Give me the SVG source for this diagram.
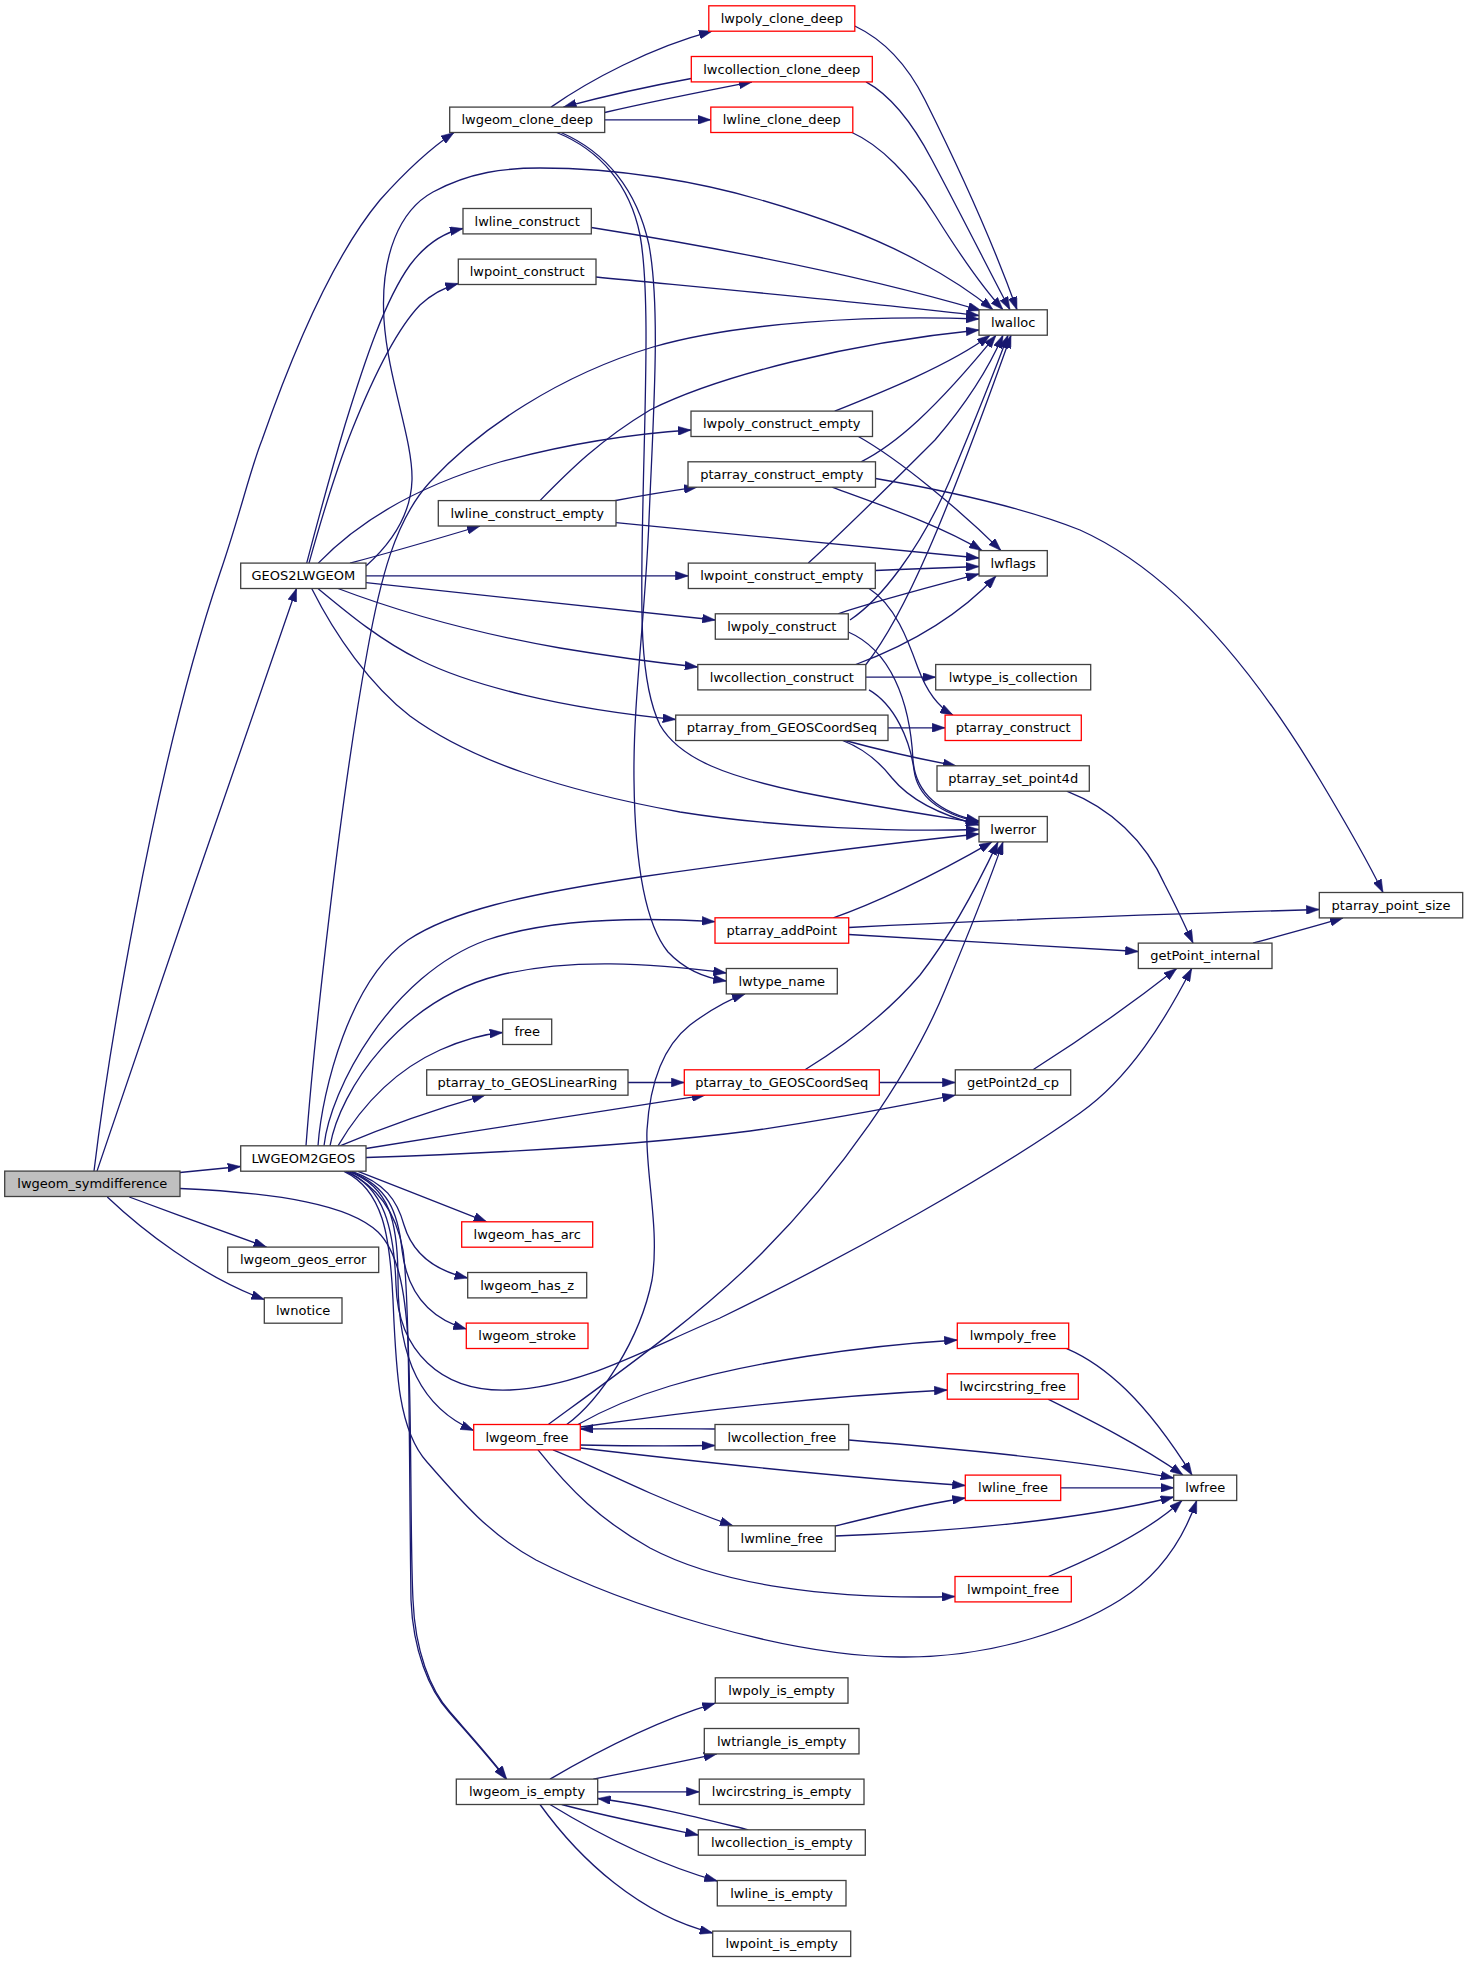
<svg xmlns="http://www.w3.org/2000/svg" width="1468" height="1963" viewBox="0 0 1468 1963">
<style>
.n rect{fill:#fff;stroke:#404040;stroke-width:1.3}
.r rect{stroke:#ff0000}
.g rect{fill:#bfbfbf}
.n text{font-family:"DejaVu Sans",sans-serif;font-size:13px;fill:#000;text-anchor:middle}
.e path{fill:none;stroke:#191970;stroke-width:1.3;marker-end:url(#a)}
</style>
<defs>
<marker id="a" viewBox="0 0 13 9" refX="13" refY="4.5" markerWidth="13" markerHeight="9" markerUnits="userSpaceOnUse" orient="auto">
<path d="M0,0 L13,4.5 L0,9 z" fill="#191970" stroke="#191970" stroke-width="0.5"/>
</marker>
</defs>
<rect width="1468" height="1963" fill="#fff"/>
<g id="edges" class="e">
<path d="M94,1171.1 C105,1080 150,780 220,573 C240,515 250,470 262,440 C290,360 330,260 380,200 C405,172 428,150 454,132.5"/>
<path d="M97,1171.1 C140,1040 255,710 296.5,588.5"/>
<path d="M180,1172.5 L240.7,1166.5"/>
<path d="M129.3,1197 C175,1214 220,1230 266.5,1247.1"/>
<path d="M107.3,1197 C140,1228 200,1276 264.3,1299.5"/>
<path d="M180,1188.5 C280,1193 350,1205 378,1232 C398,1252 405,1290 408,1340 C412,1420 410,1540 413,1600 C415,1650 430,1690 450,1712 C470,1735 490,1757 506.7,1779.1"/>
<path d="M346,1171.3 C378,1186 396,1212 403,1250 C410,1300 409,1460 411,1600 C413,1650 429,1690 449,1712 C469,1735 489,1757 506,1779.1"/>
<path d="M358,1171.3 C400,1188 450,1207 486.7,1221.8"/>
<path d="M352,1171.3 C385,1183 397,1200 404,1225 C412,1252 432,1270 467.7,1278"/>
<path d="M350,1171.3 C388,1186 398,1212 402,1250 C407,1292 428,1318 466.3,1329"/>
<path d="M348,1171.3 C390,1186 398,1222 398,1280 C398,1360 422,1408 473.7,1430.5"/>
<path d="M346,1171.3 C384,1187 394,1228 396,1285 C398,1350 440,1393 510,1390 C580,1387 640,1352 720,1318 C850,1255 1000,1170 1080,1113 C1130,1078 1165,1020 1191.7,968.5"/>
<path d="M344,1171.3 C383,1190 390,1235 393,1300 C396,1370 398,1430 427,1462 C460,1500 490,1535 536,1560 C620,1603 780,1656 900,1657 C1000,1658 1080,1625 1120,1600 C1160,1575 1183,1540 1196.7,1500.5"/>
<path d="M306,1145.8 C314,1040 340,800 367,653 C380,580 395,520 430,482 C480,428 560,375 653,347 C740,322 870,315 979,319"/>
<path d="M318,1145.8 C322,1090 350,980 408,940 C450,912 520,895 640,877 C760,860 900,842 979,834"/>
<path d="M324,1145.8 C330,1090 390,975 486.7,940 C540,922 620,916 715,921.7"/>
<path d="M330,1145.8 C340,1090 400,1000 500,975 C570,958 650,963 726.3,973"/>
<path d="M338,1145.8 C365,1100 400,1068 440,1050 C465,1039 485,1034 502.7,1032.5"/>
<path d="M340,1145.8 C390,1125 440,1108 485,1095.2"/>
<path d="M366,1148.5 C480,1130 600,1111 705,1095.2"/>
<path d="M366,1157.5 C500,1153 640,1145 750,1131 C830,1120 900,1106 955.3,1095.2"/>
<path d="M306.7,563.1 C318,520 330,475 345,425 C365,360 385,300 410,265 C425,245 442,233 463,228.5"/>
<path d="M309,563.1 C321,520 336,470 352,430 C372,380 396,330 420,305 C434,292 446,287 458.3,283.5"/>
<path d="M318.3,563.1 C360,520 420,485 500,462 C570,443 630,434 691,430"/>
<path d="M350,563.1 C400,550 440,538 480,526"/>
<path d="M366,566 C395,540 411,512 412,480 C413,440 388,380 384,320 C380,255 400,210 433,192 C470,172 505,168 540,168 C620,168 700,182 761,200 C830,220 880,240 920,262 C950,278 975,295 993,309.8"/>
<path d="M366,575.8 L688.3,575.8"/>
<path d="M366,582.7 C500,597 620,610 715.3,620"/>
<path d="M338,588.5 C400,612 480,634 560,648 C620,658 660,663 697.8,667"/>
<path d="M318,588.5 C350,615 380,640 420,660 C470,685 560,708 675.7,719.5"/>
<path d="M311.7,588.5 C335,635 370,685 410,716 C470,760 560,790 680,812 C780,828 900,832 979,829.5"/>
<path d="M551,107.1 C590,80 650,48 712,31.2"/>
<path d="M604.7,112.5 C650,102 700,92 752,81.9"/>
<path d="M691.3,78.5 C650,86 605,96 563.5,107.1"/>
<path d="M604.7,119.8 L710.8,119.8"/>
<path d="M556.7,132.5 C600,150 630,185 640,235 C650,290 645,400 643,500 C641,600 638,680 660,725 C680,760 730,777 800,792 C870,806 930,815 979,823"/>
<path d="M561,132.5 C606,152 637,190 649,245 C661,310 653,420 649,520 C645,620 633,700 634,780 C635,870 646,925 668,952 C685,970 705,978 726.3,981"/>
<path d="M854.8,26 C880,38 905,60 925,100 C955,160 992,240 1017,309.8"/>
<path d="M866,81.9 C890,95 912,122 932,160 C965,222 994,280 1010,309.8"/>
<path d="M852,132.5 C880,145 910,175 935,215 C960,255 985,290 1003,309.8"/>
<path d="M591.3,227.5 C720,248 860,275 981,310.5"/>
<path d="M596,277 C730,290 870,303 979,315.5"/>
<path d="M540,500.6 C570,470 600,440 650,410 C720,375 850,343 979,330"/>
<path d="M834.7,411.1 C880,393 950,365 990,335.2"/>
<path d="M861,461.8 C895,445 935,410 996,335.2"/>
<path d="M808.3,563.1 C850,525 900,475 935,440 C965,405 988,370 1003,335.2"/>
<path d="M850,620 C880,600 920,550 950,480 C975,420 995,370 1008,335.2"/>
<path d="M866,664.5 C905,615 945,520 1011,335.2"/>
<path d="M858.4,436.5 C900,460 960,510 1001,550.6"/>
<path d="M832,487.2 C880,505 940,525 982,550.6"/>
<path d="M616,522.7 C760,537 880,549 979,558"/>
<path d="M875.3,570.5 C910,569 945,567.5 979,566.5"/>
<path d="M838,613.8 C880,600 930,587 979,574"/>
<path d="M855.8,664.5 C900,648 955,620 996,576"/>
<path d="M865.8,677.2 L935.7,677.2"/>
<path d="M869,689.9 C895,705 910,740 914,770 C918,800 945,815 979,822"/>
<path d="M848.3,632 C890,650 910,700 913,760 C916,798 945,814 979,821"/>
<path d="M842.6,740.5 C862,748 878,760 892,778 C910,800 940,815 979,825"/>
<path d="M845,740.5 C880,750 925,760 956,765.8"/>
<path d="M888,727.8 L945.1,727.8"/>
<path d="M869,588.5 C895,605 908,640 918,668 C928,695 940,708 953,715.1"/>
<path d="M875.5,478.5 C960,493 1030,510 1080,530 C1180,575 1260,680 1320,780 C1350,830 1372,870 1383,892.5"/>
<path d="M613,501 C640,496 670,491 697,487.2"/>
<path d="M833.3,917.8 C870,905 930,878 992,841.9"/>
<path d="M848.7,927.5 C1000,920 1200,913 1319.3,909.5"/>
<path d="M848.7,934.5 C950,940 1050,946 1138.3,951.5"/>
<path d="M628,1082.5 L684.3,1082.5"/>
<path d="M879.3,1082.5 L955.3,1082.5"/>
<path d="M805,1069.8 C850,1042 890,1010 920,975 C955,930 980,880 998,841.9"/>
<path d="M1033,1069.8 C1080,1040 1130,1005 1176.7,968.5"/>
<path d="M1066.7,791.2 C1110,808 1145,840 1165,885 C1178,910 1186,928 1193,943.1"/>
<path d="M1253,943.1 C1290,933 1320,925 1343,917.9"/>
<path d="M566.7,1424.5 C600,1400 640,1340 652,1280 C660,1230 645,1170 647,1130 C650,1080 665,1045 690,1025 C710,1010 728,1000 745,993.9"/>
<path d="M548.3,1424.5 C620,1372 700,1315 760,1255 C840,1175 910,1075 945,990 C970,930 990,880 1003,841.9"/>
<path d="M578,1424.5 C600,1412 630,1398 670,1386 C750,1362 860,1346 957.3,1340"/>
<path d="M580.3,1427 C700,1410 830,1396 947.3,1390"/>
<path d="M715,1429 C680,1428.5 630,1428.5 580.3,1429"/>
<path d="M580.3,1445 C630,1446 680,1446 715,1445.5"/>
<path d="M580.3,1448 C700,1462 850,1478 965.3,1485.5"/>
<path d="M553,1449.9 C590,1465 620,1480 650,1493 C680,1506 705,1516 733,1525.8"/>
<path d="M538,1449.9 C570,1490 600,1520 650,1548 C720,1585 830,1600 955,1596.5"/>
<path d="M1066.7,1348.6 C1105,1365 1145,1400 1192,1475.1"/>
<path d="M1048,1399.2 C1090,1420 1140,1445 1183,1475.1"/>
<path d="M848.7,1440 C950,1448 1080,1460 1173.7,1478"/>
<path d="M1060.7,1487.8 L1173.7,1487.8"/>
<path d="M835.3,1526 C880,1515 920,1505 965.3,1498"/>
<path d="M835.3,1536 C950,1532 1080,1520 1173.7,1497"/>
<path d="M1048.3,1576.5 C1100,1555 1150,1530 1182,1500.5"/>
<path d="M550,1779.1 C600,1750 660,1720 715.3,1703.2"/>
<path d="M593.3,1779.1 C640,1770 680,1762 716.7,1753.9"/>
<path d="M597.7,1791.8 L699.3,1791.8"/>
<path d="M748.3,1829.8 C700,1818 650,1805 597.7,1798.5"/>
<path d="M561.7,1804.5 C600,1815 650,1825 698.3,1835"/>
<path d="M550,1804.5 C600,1835 660,1865 717.3,1881"/>
<path d="M540,1804.5 C580,1860 640,1915 712.7,1933"/>
</g>
<g id="lwgeom_symdifference" class="n g"><rect x="4.7" y="1171.1" width="175.3" height="25.4"/><text x="92.35" y="1188.3">lwgeom_symdifference</text></g>
<g id="GEOS2LWGEOM" class="n"><rect x="240.7" y="563.1" width="125.3" height="25.4"/><text x="303.35" y="580.3">GEOS2LWGEOM</text></g>
<g id="LWGEOM2GEOS" class="n"><rect x="240.7" y="1145.8" width="125.3" height="25.4"/><text x="303.35" y="1163">LWGEOM2GEOS</text></g>
<g id="lwgeom_geos_error" class="n"><rect x="227.7" y="1247.1" width="151" height="25.4"/><text x="303.2" y="1264.3">lwgeom_geos_error</text></g>
<g id="lwnotice" class="n"><rect x="264.3" y="1297.8" width="77.7" height="25.4"/><text x="303.15" y="1315">lwnotice</text></g>
<g id="lwgeom_clone_deep" class="n"><rect x="449.7" y="107.1" width="155" height="25.4"/><text x="527.2" y="124.3">lwgeom_clone_deep</text></g>
<g id="lwline_construct" class="n"><rect x="463" y="208.5" width="128.3" height="25.4"/><text x="527.15" y="225.7">lwline_construct</text></g>
<g id="lwpoint_construct" class="n"><rect x="458.3" y="259.1" width="137.7" height="25.4"/><text x="527.15" y="276.3">lwpoint_construct</text></g>
<g id="lwline_construct_empty" class="n"><rect x="438.3" y="500.6" width="177.7" height="25.4"/><text x="527.15" y="517.8">lwline_construct_empty</text></g>
<g id="free" class="n"><rect x="502.7" y="1019.1" width="49" height="25.4"/><text x="527.2" y="1036.3">free</text></g>
<g id="ptarray_to_GEOSLinearRing" class="n"><rect x="426.7" y="1069.8" width="201.3" height="25.4"/><text x="527.35" y="1087">ptarray_to_GEOSLinearRing</text></g>
<g id="lwgeom_has_arc" class="n r"><rect x="461.7" y="1221.8" width="131" height="25.4"/><text x="527.2" y="1239">lwgeom_has_arc</text></g>
<g id="lwgeom_has_z" class="n"><rect x="467.7" y="1272.5" width="119" height="25.4"/><text x="527.2" y="1289.7">lwgeom_has_z</text></g>
<g id="lwgeom_stroke" class="n r"><rect x="466.3" y="1323.1" width="121.7" height="25.4"/><text x="527.15" y="1340.3">lwgeom_stroke</text></g>
<g id="lwgeom_free" class="n r"><rect x="473.7" y="1424.5" width="106.6" height="25.4"/><text x="527" y="1441.7">lwgeom_free</text></g>
<g id="lwgeom_is_empty" class="n"><rect x="456.3" y="1779.1" width="141.4" height="25.4"/><text x="527" y="1796.3">lwgeom_is_empty</text></g>
<g id="lwpoly_clone_deep" class="n r"><rect x="708.8" y="5.8" width="146" height="25.4"/><text x="781.8" y="23">lwpoly_clone_deep</text></g>
<g id="lwcollection_clone_deep" class="n r"><rect x="691.3" y="56.5" width="181" height="25.4"/><text x="781.8" y="73.7">lwcollection_clone_deep</text></g>
<g id="lwline_clone_deep" class="n r"><rect x="710.8" y="107.1" width="142" height="25.4"/><text x="781.8" y="124.3">lwline_clone_deep</text></g>
<g id="lwpoly_construct_empty" class="n"><rect x="691" y="411.1" width="181.5" height="25.4"/><text x="781.75" y="428.3">lwpoly_construct_empty</text></g>
<g id="ptarray_construct_empty" class="n"><rect x="688" y="461.8" width="187.5" height="25.4"/><text x="781.75" y="479">ptarray_construct_empty</text></g>
<g id="lwpoint_construct_empty" class="n"><rect x="688.3" y="563.1" width="187" height="25.4"/><text x="781.8" y="580.3">lwpoint_construct_empty</text></g>
<g id="lwpoly_construct" class="n"><rect x="715.3" y="613.8" width="133" height="25.4"/><text x="781.8" y="631">lwpoly_construct</text></g>
<g id="lwcollection_construct" class="n"><rect x="697.8" y="664.5" width="168" height="25.4"/><text x="781.8" y="681.7">lwcollection_construct</text></g>
<g id="ptarray_from_GEOSCoordSeq" class="n"><rect x="675.7" y="715.1" width="212.3" height="25.4"/><text x="781.85" y="732.3">ptarray_from_GEOSCoordSeq</text></g>
<g id="ptarray_addPoint" class="n r"><rect x="715" y="917.8" width="133.7" height="25.4"/><text x="781.85" y="935">ptarray_addPoint</text></g>
<g id="lwtype_name" class="n"><rect x="726.3" y="968.5" width="111" height="25.4"/><text x="781.8" y="985.7">lwtype_name</text></g>
<g id="ptarray_to_GEOSCoordSeq" class="n r"><rect x="684.3" y="1069.8" width="195" height="25.4"/><text x="781.8" y="1087">ptarray_to_GEOSCoordSeq</text></g>
<g id="lwcollection_free" class="n"><rect x="715" y="1424.5" width="133.7" height="25.4"/><text x="781.85" y="1441.7">lwcollection_free</text></g>
<g id="lwmline_free" class="n"><rect x="728.3" y="1525.8" width="107" height="25.4"/><text x="781.8" y="1543">lwmline_free</text></g>
<g id="lwpoly_is_empty" class="n"><rect x="715.3" y="1677.8" width="132.7" height="25.4"/><text x="781.65" y="1695">lwpoly_is_empty</text></g>
<g id="lwtriangle_is_empty" class="n"><rect x="704.3" y="1728.5" width="154.7" height="25.4"/><text x="781.65" y="1745.7">lwtriangle_is_empty</text></g>
<g id="lwcircstring_is_empty" class="n"><rect x="699.3" y="1779.1" width="164.7" height="25.4"/><text x="781.65" y="1796.3">lwcircstring_is_empty</text></g>
<g id="lwcollection_is_empty" class="n"><rect x="698.3" y="1829.8" width="167" height="25.4"/><text x="781.8" y="1847">lwcollection_is_empty</text></g>
<g id="lwline_is_empty" class="n"><rect x="717.3" y="1880.5" width="128.7" height="25.4"/><text x="781.65" y="1897.7">lwline_is_empty</text></g>
<g id="lwpoint_is_empty" class="n"><rect x="712.7" y="1931.1" width="138" height="25.4"/><text x="781.7" y="1948.3">lwpoint_is_empty</text></g>
<g id="lwalloc" class="n"><rect x="979" y="309.8" width="68.3" height="25.4"/><text x="1013.15" y="327">lwalloc</text></g>
<g id="lwflags" class="n"><rect x="979" y="550.6" width="68.3" height="25.4"/><text x="1013.15" y="567.8">lwflags</text></g>
<g id="lwtype_is_collection" class="n"><rect x="935.7" y="664.5" width="155" height="25.4"/><text x="1013.2" y="681.7">lwtype_is_collection</text></g>
<g id="ptarray_construct" class="n r"><rect x="945.1" y="715.1" width="136.2" height="25.4"/><text x="1013.2" y="732.3">ptarray_construct</text></g>
<g id="ptarray_set_point4d" class="n"><rect x="937" y="765.8" width="152.3" height="25.4"/><text x="1013.15" y="783">ptarray_set_point4d</text></g>
<g id="lwerror" class="n"><rect x="979" y="816.5" width="68.3" height="25.4"/><text x="1013.15" y="833.7">lwerror</text></g>
<g id="getPoint2d_cp" class="n"><rect x="955.3" y="1069.8" width="115.4" height="25.4"/><text x="1013" y="1087">getPoint2d_cp</text></g>
<g id="lwmpoly_free" class="n r"><rect x="957.3" y="1323.1" width="111.4" height="25.4"/><text x="1013" y="1340.3">lwmpoly_free</text></g>
<g id="lwcircstring_free" class="n r"><rect x="947.3" y="1373.8" width="131" height="25.4"/><text x="1012.8" y="1391">lwcircstring_free</text></g>
<g id="lwline_free" class="n r"><rect x="965.3" y="1475.1" width="95.4" height="25.4"/><text x="1013" y="1492.3">lwline_free</text></g>
<g id="lwmpoint_free" class="n r"><rect x="955" y="1576.5" width="116.3" height="25.4"/><text x="1013.15" y="1593.7">lwmpoint_free</text></g>
<g id="getPoint_internal" class="n"><rect x="1138.3" y="943.1" width="133.7" height="25.4"/><text x="1205.15" y="960.3">getPoint_internal</text></g>
<g id="lwfree" class="n"><rect x="1173.7" y="1475.1" width="63" height="25.4"/><text x="1205.2" y="1492.3">lwfree</text></g>
<g id="ptarray_point_size" class="n"><rect x="1319.3" y="892.5" width="143.4" height="25.4"/><text x="1391" y="909.7">ptarray_point_size</text></g>
</svg>
